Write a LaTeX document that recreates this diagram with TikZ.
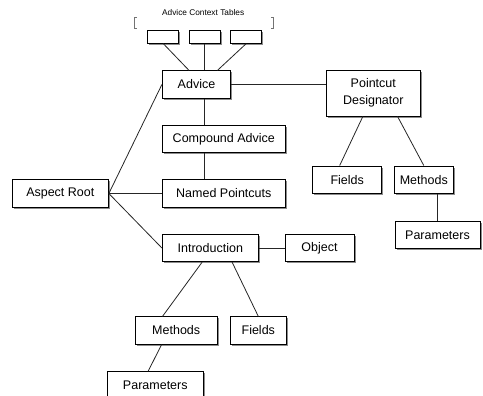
\documentclass[tikz,border=0pt]{standalone}
\usepackage{fontspec}
\setmainfont{Liberation Sans}
\usepackage{tikz}
\usetikzlibrary{shadows}
\tikzstyle{box} = [rectangle, minimum height=27.5pt, text centered, draw=black, fill=white, line width=0.8pt, font=\fontsize{12.5}{16.7}\selectfont, drop shadow={shadow xshift=1.6pt, shadow yshift=-1.6pt, fill=black!45, opacity=1}]
\tikzstyle{tablebox} = [rectangle, minimum width=31pt, minimum height=12.5pt, inner sep=0pt, draw=black, fill=white, line width=0.8pt, drop shadow={shadow xshift=1.4pt, shadow yshift=-1.4pt, fill=black!45, opacity=1}]
\tikzstyle{link} = [line width=0.8pt, black!85]
\tikzstyle{bracket} = [line width=0.8pt, black!55]

\begin{document}
\begin{tikzpicture}[x=1pt, y=1pt, node distance=54.5pt]
	\useasboundingbox (0,0) rectangle (483,-396);
	\clip (0,0) rectangle (483,-396);

	\node (advice) [box, minimum width=68.4pt] at (196.5,-84.5) {Advice};
	\node (compound) [box, minimum width=122.3pt, below of=advice, xshift=27.3pt] {Compound Advice};
	\node (named) [box, minimum width=122.3pt, below of=compound] {Named Pointcuts};
	\node (intro) [box, minimum width=96pt, below of=named, xshift=-13.5pt] {Introduction};
	\node (aspect) [box, minimum width=96.3pt, left of=named, xshift=-109pt] {Aspect Root};
	\node (object) [box, minimum width=69pt, right of=intro, xshift=54.7pt] {Object};
	\node (methodsB) [box, minimum width=82.3pt, below of=intro, xshift=-34.1pt, yshift=-28pt] {Methods};
	\node (fieldsB) [box, minimum width=55.3pt, right of=methodsB, xshift=27.6pt] {Fields};
	\node (paramsB) [box, minimum width=96pt, below of=methodsB, xshift=-20.9pt, yshift=-0.5pt] {Parameters};

	\node (pd) [box, minimum width=94.7pt, minimum height=46pt, align=center, right of=advice, xshift=122.3pt, yshift=-8.5pt] {Pointcut\\Designator};
	\node (fieldsR) [box, minimum width=69pt, below of=pd, xshift=-26.1pt, yshift=-32.2pt] {Fields};
	\node (methodsR) [box, minimum width=59pt, right of=fieldsR, xshift=22.1pt] {Methods};
	\node (paramsR) [box, minimum width=85pt, below of=methodsR, xshift=13.7pt, yshift=-0.8pt] {Parameters};

	% advice context tables
	\node (ctx2) [tablebox, above of=advice, xshift=8.2pt, yshift=-7pt] {};
	\node (ctx1) [tablebox, left of=ctx2, xshift=13.1pt] {};
	\node (ctx3) [tablebox, right of=ctx2, xshift=-13pt] {};
	\node (ctxtitle) [font=\fontsize{8.3}{10}\selectfont, above of=ctx2, xshift=-1.5pt, yshift=-30.5pt] {Advice Context Tables};
	\draw [bracket] (137,-17.5) -- (134.8,-17.5) -- (134.8,-28.5) -- (137,-28.5);
	\draw [bracket] (271,-17.5) -- (273.2,-17.5) -- (273.2,-28.5) -- (271,-28.5);

	\draw [link] (ctx1.south) -- (advice.118);
	\draw [link] (ctx2.south) -- (ctx2.south |- advice.north);
	\draw [link] (ctx3.south) -- (advice.34);
	\draw [link] (advice.south -| ctx2) -- (compound.north -| ctx2);
	\draw [link] (compound.south -| ctx2) -- (named.north -| ctx2);
	\draw [link] (advice.east) -- (advice.east -| pd.west);

	\draw [link] (aspect.east) -- (advice.west);
	\draw [link] (aspect.east) -- (named.west);
	\draw [link] (aspect.east) -- (intro.west);

	\draw [link] (intro.east) -- (object.west);
	\draw [link] (intro.240) -- (methodsB.134);
	\draw [link] (intro.-33) -- (fieldsB.north);
	\draw [link] (methodsB.224) -- (paramsB.117);

	\draw [link] (pd.246) -- (fieldsR.118);
	\draw [link] (pd.-44) -- (methodsR.north);
	\draw [link] (paramsR.north) -- (paramsR.north |- methodsR.south);

	\end{tikzpicture}
\end{document}
